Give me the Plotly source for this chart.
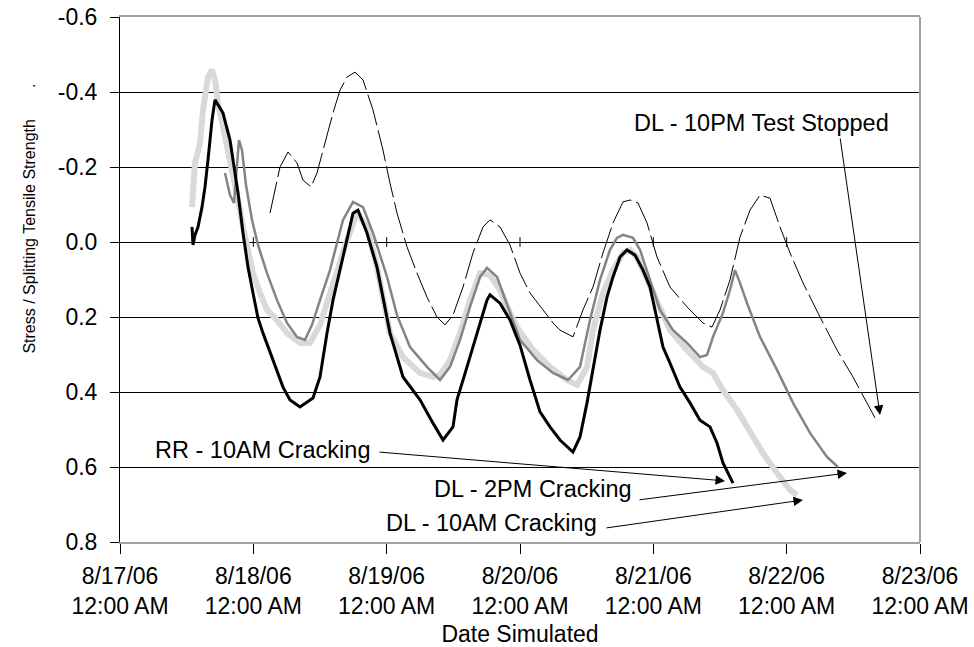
import pandas as pd
import plotly.graph_objects as go

START = pd.Timestamp("2006-08-17 00:00")

# ---- data: hours since 8/17/06 12:00 AM, and stress / splitting tensile strength ----
rr10am_h = [12.96, 13.14, 13.5, 14.04, 14.76, 15.3, 15.84, 16.56, 17.1, 18.54, 19.8, 21.24, 22.14,
            23.04, 23.94, 24.84, 25.74, 27.54, 29.34, 30.6, 32.4, 34.74, 36.0, 37.26, 38.34, 39.06,
            40.86, 41.94, 42.84, 44.46, 46.26, 48.06, 48.6, 50.94, 54.0, 56.34, 58.14, 59.94, 60.66,
            62.46, 64.26, 66.06, 66.6, 68.4, 70.2, 72.0, 73.8, 75.6, 77.4, 79.2, 81.54, 82.8, 84.06,
            85.14, 86.4, 87.66, 88.74, 90.0, 91.26, 92.7, 94.14, 95.4, 96.66, 97.74, 99.0, 100.8,
            102.6, 104.4, 106.2, 107.46, 108.54, 110.34]
rr10am_v = [-0.04, 0.008, -0.019, -0.04, -0.093, -0.147, -0.219, -0.325, -0.379, -0.344, -0.272,
            -0.131, -0.024, 0.067, 0.136, 0.203, 0.243, 0.315, 0.387, 0.421, 0.44, 0.416, 0.36,
            0.243, 0.155, 0.109, -0.005, -0.077, -0.085, -0.024, 0.067, 0.2, 0.243, 0.36, 0.421,
            0.483, 0.528, 0.493, 0.421, 0.333, 0.243, 0.155, 0.141, 0.163, 0.208, 0.275, 0.368,
            0.453, 0.493, 0.528, 0.56, 0.52, 0.429, 0.341, 0.235, 0.147, 0.093, 0.04, 0.021, 0.035,
            0.075, 0.12, 0.208, 0.28, 0.323, 0.387, 0.429, 0.475, 0.493, 0.536, 0.589, 0.643]

dl10am_h = [12.96, 13.14, 13.5, 14.4, 14.94, 15.84, 16.56, 17.1, 17.64, 18.54, 19.44, 20.34, 21.24,
            22.14, 23.04, 23.94, 25.2, 26.46, 28.26, 30.06, 32.4, 34.2, 36.0, 38.34, 40.86, 42.66,
            44.46, 46.26, 48.06, 48.6, 50.94, 54.0, 56.34, 57.6, 59.4, 61.2, 63.0, 64.8, 66.6, 68.4,
            70.2, 71.46, 74.34, 77.4, 80.46, 82.26, 84.06, 85.14, 86.94, 88.74, 90.54, 91.8, 93.06,
            94.86, 96.66, 99.0, 102.06, 104.94, 106.74, 108.54, 111.06, 113.4, 115.74, 118.26,
            120.6, 121.86]
dl10am_v = [-0.093, -0.147, -0.211, -0.264, -0.352, -0.44, -0.459, -0.432, -0.371, -0.307, -0.245,
            -0.192, -0.112, -0.04, 0.029, 0.083, 0.136, 0.181, 0.208, 0.243, 0.269, 0.269, 0.221,
            0.109, -0.005, -0.077, -0.04, 0.067, 0.189, 0.243, 0.307, 0.349, 0.36, 0.355, 0.315,
            0.243, 0.155, 0.083, 0.088, 0.128, 0.189, 0.227, 0.288, 0.333, 0.368, 0.381, 0.333,
            0.235, 0.136, 0.075, 0.029, 0.021, 0.04, 0.101, 0.163, 0.235, 0.288, 0.333, 0.349,
            0.395, 0.448, 0.509, 0.563, 0.616, 0.661, 0.675]

dl2pm_h = [18.9, 19.8, 20.52, 20.88, 21.42, 21.96, 22.68, 23.76, 24.84, 26.46, 28.26, 30.06, 31.86,
           33.3, 34.56, 36.0, 37.8, 40.14, 41.94, 43.74, 45.54, 48.06, 49.86, 52.2, 55.26, 57.6,
           59.4, 61.2, 63.0, 64.8, 66.06, 67.86, 69.66, 72.0, 75.06, 77.94, 80.64, 82.8, 84.6, 86.4,
           88.2, 89.46, 90.54, 92.34, 93.6, 95.4, 97.2, 99.54, 102.06, 104.4, 105.66, 106.74,
           108.54, 109.8, 110.7, 111.6, 112.86, 115.2, 118.26, 121.14, 124.2, 127.26, 129.24]
dl2pm_v = [-0.184, -0.125, -0.104, -0.179, -0.272, -0.245, -0.152, -0.059, 0.008, 0.083, 0.155,
           0.216, 0.253, 0.261, 0.221, 0.155, 0.075, -0.059, -0.107, -0.093, -0.024, 0.093, 0.195,
           0.28, 0.333, 0.368, 0.333, 0.261, 0.173, 0.093, 0.069, 0.093, 0.168, 0.261, 0.315,
           0.349, 0.368, 0.333, 0.208, 0.101, 0.021, -0.011, -0.019, -0.011, 0.021, 0.101, 0.181,
           0.235, 0.269, 0.307, 0.301, 0.253, 0.189, 0.128, 0.075, 0.109, 0.163, 0.253, 0.341,
           0.429, 0.509, 0.573, 0.6]

dl10pm_h = [27.0, 28.8, 30.24, 31.86, 32.94, 34.38, 35.46, 36.54, 38.34, 39.6, 40.86, 42.3, 43.74,
            45.54, 47.34, 48.6, 49.86, 51.66, 53.46, 55.26, 57.06, 58.5, 59.94, 61.74, 63.54, 65.34,
            66.6, 68.4, 70.2, 72.0, 73.8, 76.14, 77.94, 79.2, 81.54, 83.34, 85.14, 86.94, 88.74,
            90.54, 91.8, 93.24, 94.86, 96.66, 99.0, 102.06, 104.94, 106.56, 108.0, 109.8, 111.6,
            113.4, 115.2, 117.0, 118.8, 120.6, 122.94, 126.0, 129.06, 131.94, 134.46, 135.9]
dl10pm_v = [-0.077, -0.2, -0.24, -0.211, -0.165, -0.147, -0.184, -0.245, -0.344, -0.405, -0.44,
            -0.453, -0.432, -0.352, -0.245, -0.157, -0.077, 0.013, 0.083, 0.147, 0.2, 0.221, 0.195,
            0.12, 0.029, -0.04, -0.059, -0.04, 0.008, 0.083, 0.136, 0.181, 0.216, 0.235, 0.253,
            0.181, 0.12, 0.029, -0.051, -0.107, -0.112, -0.104, -0.051, 0.04, 0.12, 0.173, 0.216,
            0.227, 0.181, 0.101, -0.013, -0.085, -0.125, -0.117, -0.04, 0.029, 0.109, 0.2, 0.288,
            0.36, 0.429, 0.469]

x_tick_days = [0, 1, 2, 3, 4, 5, 6]
x_tick_text = ["8/17/06<br>12:00 AM", "8/18/06<br>12:00 AM", "8/19/06<br>12:00 AM",
               "8/20/06<br>12:00 AM", "8/21/06<br>12:00 AM", "8/22/06<br>12:00 AM",
               "8/23/06<br>12:00 AM"]
y_tick_vals = [-0.6, -0.4, -0.2, 0.0, 0.2, 0.4, 0.6, 0.8]
y_tick_text = ["-0.6", "-0.4", "-0.2", "0.0", "0.2", "0.4", "0.6", "0.8"]


def t(hours):
    return [(START + pd.Timedelta(hours=h)).strftime("%Y-%m-%d %H:%M:%S") for h in hours]


def t1(hours):
    return t([hours])[0]


FONT = "Liberation Sans, Arial, sans-serif"

fig = go.Figure()
fig.add_trace(go.Scatter(x=t(dl10am_h), y=dl10am_v, mode="lines", name="DL - 10AM Cracking",
                         line=dict(color="#d9d9d9", width=6)))
fig.add_trace(go.Scatter(x=t(dl2pm_h), y=dl2pm_v, mode="lines", name="DL - 2PM Cracking",
                         line=dict(color="#848484", width=2.5)))
fig.add_trace(go.Scatter(x=t(rr10am_h), y=rr10am_v, mode="lines", name="RR - 10AM Cracking",
                         line=dict(color="#000000", width=3)))
fig.add_trace(go.Scatter(x=t(dl10pm_h), y=dl10pm_v, mode="lines", name="DL - 10PM Test Stopped",
                         line=dict(color="#000000", width=1, dash="32px,5px")))

tick_dates = t([d * 24 for d in x_tick_days])

# small tick marks across the zero line
for d in x_tick_days[1:]:
    fig.add_shape(type="line", xref="x", yref="y", x0=t1(d * 24), x1=t1(d * 24),
                  y0=-0.013, y1=0.013, line=dict(color="black", width=1))
# right border
fig.add_shape(type="line", xref="paper", yref="paper", x0=1, x1=1, y0=0, y1=1,
              line=dict(color="#a0a0a0", width=2))

labels = [
    ("RR - 10AM Cracking", 45.4, 0.555),
    ("DL - 2PM Cracking", 92.5, 0.659),
    ("DL - 10AM Cracking", 86.2, 0.749),
    ("DL - 10PM Test Stopped", 138.8, -0.317),
]
for txt, h, v in labels:
    fig.add_annotation(x=t1(h), y=v, xref="x", yref="y", text=txt, showarrow=False,
                       xanchor="right", yanchor="middle",
                       font=dict(family=FONT, size=23.5, color="black"))

arrows = [
    (108.9, 0.637, 46.44, 0.56),
    (130.86, 0.616, 93.24, 0.688),
    (122.94, 0.688, 87.3, 0.763),
    (136.8, 0.461, 129.6, -0.28),
]
for hx, hy, tx, ty in arrows:
    fig.add_annotation(x=t1(hx), y=hy, ax=t1(tx), ay=ty, xref="x", yref="y",
                       axref="x", ayref="y", text="", showarrow=True,
                       arrowhead=2, arrowsize=1.9, arrowwidth=1, arrowcolor="black",
                       standoff=0, startstandoff=0)

fig.add_annotation(xref="paper", yref="paper", x=-0.1125, y=0.616,
                   text="Stress / Splitting Tensile Strength" + "\u00a0" * 7 + ".",
                   textangle=-90, showarrow=False, xanchor="center", yanchor="middle",
                   font=dict(family=FONT, size=16, color="black"))

fig.update_layout(
    width=974, height=647,
    margin=dict(l=120, r=54, t=17, b=105, pad=0, autoexpand=False),
    paper_bgcolor="white", plot_bgcolor="white",
    showlegend=False,
    font=dict(family=FONT, size=23, color="black"),
    xaxis=dict(
        type="date", automargin=False,
        range=[tick_dates[0], tick_dates[-1]],
        tickmode="array", tickvals=tick_dates, ticktext=x_tick_text,
        showgrid=False, zeroline=False,
        showline=True, linecolor="#a0a0a0", linewidth=2, mirror=True,
        ticks="outside", ticklen=10, tickcolor="black", tickwidth=1,
        ticklabelstandoff=2,
        tickfont=dict(family=FONT, size=23, color="black"),
        title=dict(text="Date Simulated", font=dict(family=FONT, size=23, color="black"),
                   standoff=8),
    ),
    yaxis=dict(
        automargin=False,
        range=[0.8, -0.6],
        tickmode="array", tickvals=y_tick_vals, ticktext=y_tick_text,
        showgrid=True, gridcolor="black", gridwidth=1,
        zeroline=True, zerolinecolor="black", zerolinewidth=1,
        showline=True, linecolor="black", linewidth=1, mirror=False,
        ticks="outside", ticklen=9, tickcolor="black", tickwidth=1,
        ticklabelstandoff=8,
        tickfont=dict(family=FONT, size=23, color="black"),
    ),
)

fig.write_html("out.html")
